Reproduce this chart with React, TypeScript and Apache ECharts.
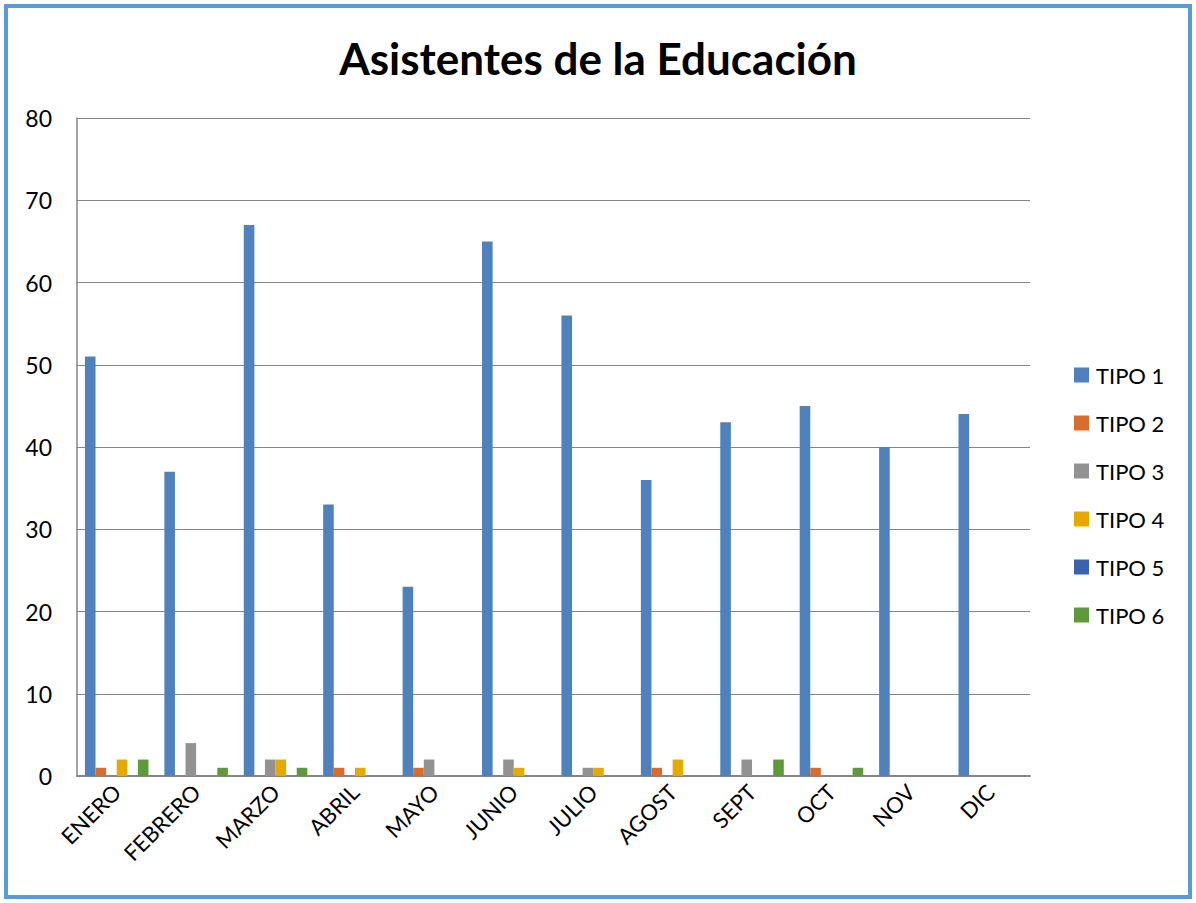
import React, { useEffect, useRef } from "react";
import * as echarts from "echarts";

const categories = ["ENERO", "FEBRERO", "MARZO", "ABRIL", "MAYO", "JUNIO", "JULIO", "AGOST", "SEPT", "OCT", "NOV", "DIC"];
const tipo1 = [51, 37, 67, 33, 23, 65, 56, 36, 43, 45, 40, 44];
const tipo2 = [1, 0, 0, 1, 1, 0, 0, 1, 0, 1, 0, 0];
const tipo3 = [0, 4, 2, 0, 2, 2, 1, 0, 2, 0, 0, 0];
const tipo4 = [2, 0, 2, 1, 0, 1, 1, 2, 0, 0, 0, 0];
const tipo5 = [0, 0, 0, 0, 0, 0, 0, 0, 0, 0, 0, 0];
const tipo6 = [2, 1, 1, 0, 0, 0, 0, 0, 2, 1, 0, 0];
const seriesNames = ["TIPO 1", "TIPO 2", "TIPO 3", "TIPO 4", "TIPO 5", "TIPO 6"];
const seriesData = [tipo1, tipo2, tipo3, tipo4, tipo5, tipo6];
const colors = ["#4F81BD", "#D86D2E", "#929292", "#E5AA00", "#3C62AE", "#5E9A3C"];

export default function App() {
  const ref = useRef<HTMLDivElement>(null);
  useEffect(() => {
    document.body.style.margin = "0";
    const chart = echarts.init(ref.current!, null, { renderer: "svg" });
    const font = "Lato, 'Open Sans', sans-serif";
    chart.setOption({
      animation: false,
      color: colors,
      textStyle: { fontFamily: font },
      title: {
        text: "Asistentes de la Educación",
        left: "center",
        top: 31,
        textStyle: { fontSize: 44, fontWeight: "bold", color: "#000", fontFamily: font },
      },
      graphic: [
        {
          type: "rect",
          shape: { x: 6, y: 6, width: 1184, height: 891 },
          style: { fill: "none", stroke: "#5B9BD5", lineWidth: 4 },
        },
      ],
      legend: {
        orient: "vertical",
        left: 1069,
        top: 359,
        itemWidth: 15,
        itemHeight: 15,
        itemGap: 26,
        icon: "rect",
        data: seriesNames,
        textStyle: { fontSize: 22, color: "#000", fontFamily: font, padding: [0, 0, 0, 2] },
      },
      grid: { left: 77, right: 166, top: 118, bottom: 127, containLabel: false },
      xAxis: {
        type: "category",
        data: categories,
        axisLine: { lineStyle: { color: "#868686", width: 2 } },
        axisTick: { show: false },
        axisLabel: { rotate: 45, fontSize: 22, color: "#000", margin: 12, fontFamily: font },
      },
      yAxis: {
        type: "value",
        min: 0,
        max: 80,
        interval: 10,
        axisLine: { show: true, lineStyle: { color: "#868686", width: 1.5 } },
        axisTick: { show: false },
        splitLine: { lineStyle: { color: "#868686", width: 1 } },
        axisLabel: { fontSize: 23, color: "#000", margin: 25, fontFamily: font },
      },
      series: seriesNames.map((name, i) => ({
        name,
        type: "bar",
        data: seriesData[i],
        barGap: "0%",
        barCategoryGap: "20%",
        itemStyle: { color: colors[i] },
      })),
    });
    return () => chart.dispose();
  }, []);
  return <div ref={ref} style={{ width: 1196, height: 903 }} />;
}
